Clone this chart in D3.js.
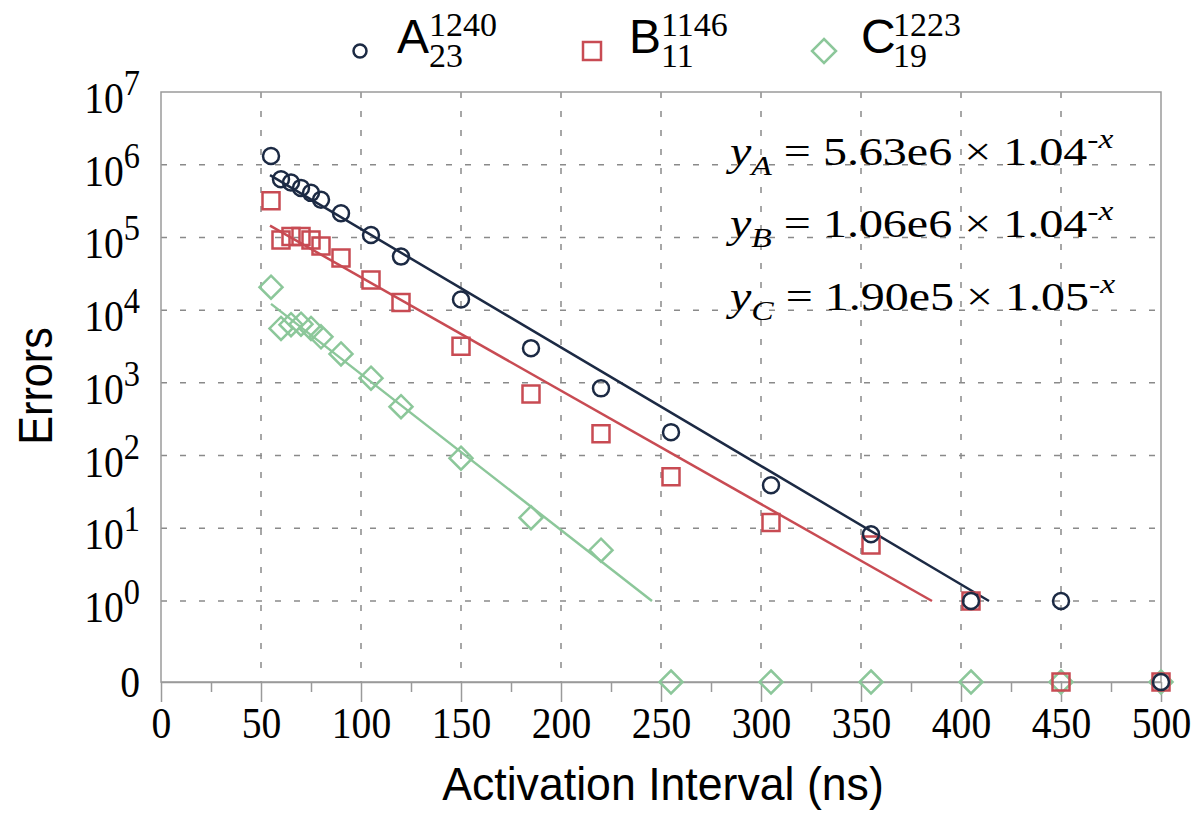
<!DOCTYPE html>
<html lang="en">
<head>
<meta charset="utf-8">
<title>Errors vs activation interval</title>
<script src="https://d3js.org/d3.v7.min.js"></script>
<style>
  body { margin: 0; background: #fff; }
  svg { display: block; }
</style>
</head>
<body>
<svg width="1201" height="813"></svg>
<script>
// activation interval (ns) for every measurement
var intervals = [55, 60, 65, 70, 75, 80, 90, 105, 120, 150, 185, 220, 255, 305, 355, 405, 450, 500];

// errors per interval, 0 = no error observed
var errorsA = [1.32e6, 6.3e5, 5.7e5, 4.8e5, 4.1e5, 3.3e5, 2.15e5, 1.08e5, 5.45e4, 1.4e4, 3.0e3, 840, 210, 39, 8.3, 1, 1, 0];
var errorsB = [3.2e5, 9.2e4, 1.03e5, 1.03e5, 9.2e4, 7.6e4, 5.2e4, 2.6e4, 1.27e4, 3.2e3, 700, 200, 51, 12, 5.9, 1, 0, 0];
var errorsC = [2.07e4, 5.6e3, 6.3e3, 6.4e3, 5.6e3, 4.3e3, 2.5e3, 1160, 470, 92, 14, 5.0, 0, 0, 0, 0, 0, 0];

// exponential fits (start / end point, straight on log axis)
var fitA = [[54.5, 7.2e5], [414, 1]];
var fitB = [[54.5, 1.45e5], [385.5, 1]];
var fitC = [[55, 1.22e4], [245.5, 1]];

var names = ["A", "B", "C"];
var supLabels = ["1240", "1146", "1223"];
var subLabels = ["23", "11", "19"];
var eqCoef = ["5.63e6", "1.06e6", "1.90e5"];
var eqBase = ["1.04", "1.04", "1.05"];

var xTicks = d3.range(0, 501, 50);
var xMinor = d3.range(25, 500, 50);
var yExps = [0, 1, 2, 3, 4, 5, 6, 7];

var colors = ["#1c2a44", "#c84b53", "#8cc79a"];
var serif = "'Liberation Serif', 'Times New Roman', serif";
var sans = "'Liberation Sans', Arial, sans-serif";

var svg = d3.select("svg");

var x = d3.scaleLinear().domain([0, 500]).range([161, 1161]);
var yLog = d3.scaleLog().domain([1, 1e7]).range([601, 92]);
var zeroGap = 81;
function y(v) { return v > 0 ? yLog(v) : yLog(1) + zeroGap; }
var yTop = yLog(1e7), yZero = y(0);

// dashed grid
var grid = svg.append("g")
  .attr("stroke", "#8a8a8a").attr("stroke-width", 1.5).attr("stroke-dasharray", "6,13");
grid.selectAll("line.gv").data(xTicks.slice(1, -1)).join("line").attr("class", "gv")
  .attr("x1", d => x(d)).attr("x2", d => x(d))
  .attr("y1", yTop).attr("y2", yZero);
grid.selectAll("line.gh").data(yExps.slice(0, -1)).join("line").attr("class", "gh")
  .attr("x1", x(0)).attr("x2", x(500))
  .attr("y1", d => yLog(Math.pow(10, d))).attr("y2", d => yLog(Math.pow(10, d)));

// frame
svg.append("rect")
  .attr("x", x(0)).attr("y", yTop)
  .attr("width", x(500) - x(0)).attr("height", yZero - yTop)
  .attr("fill", "none").attr("stroke", "#9a9a9a").attr("stroke-width", 1.5);

// x axis
var xAxis = svg.append("g").attr("transform", "translate(0," + yZero + ")")
  .call(d3.axisBottom(x).tickValues(xTicks).tickSize(20).tickSizeOuter(0));
svg.append("g").attr("transform", "translate(0," + yZero + ")")
  .call(d3.axisBottom(x).tickValues(xMinor).tickSize(10).tickSizeOuter(0).tickFormat(""))
  .call(g => g.select(".domain").remove())
  .selectAll("line").attr("stroke", "#9a9a9a").attr("stroke-width", 1.5);
xAxis.select(".domain").attr("stroke", "#9a9a9a").attr("stroke-width", 1.5);
xAxis.selectAll("line").attr("stroke", "#9a9a9a").attr("stroke-width", 1.5);
xAxis.selectAll("text")
  .attr("y", 56).attr("dy", null)
  .attr("fill", "#000")
  .attr("font-family", serif).attr("font-size", 44)
  .attr("transform", "scale(0.9,1)");

// y labels
var yl = svg.append("g").attr("font-family", serif).attr("fill", "#000");
yExps.forEach(function (e) {
  var t = yl.append("text")
    .attr("text-anchor", "end")
    .attr("font-size", 44)
    .attr("transform", "translate(140," + (yLog(Math.pow(10, e)) + 21) + ") scale(0.9,1)");
  t.append("tspan").text("10");
  t.append("tspan").attr("font-size", 36).attr("dy", -18).text(e);
});
yl.append("text")
  .attr("text-anchor", "end").attr("font-size", 44)
  .attr("transform", "translate(140," + (yZero + 15) + ") scale(0.9,1)")
  .text("0");

// axis titles
svg.append("text")
  .attr("font-family", sans).attr("font-size", 47).attr("text-anchor", "middle")
  .attr("transform", "translate(663,800) scale(0.95,1)")
  .text("Activation Interval (ns)");
svg.append("text")
  .attr("font-family", sans).attr("font-size", 48).attr("text-anchor", "middle")
  .attr("transform", "translate(52,386) rotate(-90) scale(0.9,1)")
  .text("Errors");

// fit lines
var line = d3.line().x(d => x(d[0])).y(d => y(d[1]));
[fitC, fitB, fitA].forEach(function (f, i) {
  svg.append("path").datum(f)
    .attr("d", line)
    .attr("fill", "none")
    .attr("stroke", colors[2 - i]).attr("stroke-width", 2.5);
});

// markers
function markerPath(kind, s) {
  if (kind === 0) return d3.symbol(d3.symbolCircle, Math.PI * s * s)();
  if (kind === 1) return "M" + (-s) + "," + (-s) + "H" + s + "V" + s + "H" + (-s) + "Z";
  return "M0," + (-s) + "L" + s + ",0L0," + s + "L" + (-s) + ",0Z";
}
var sizes = [8, 8.5, 11.5];
var series = [errorsA, errorsB, errorsC];
[2, 1, 0].forEach(function (k) {
  svg.append("g").selectAll("path")
    .data(intervals.map((t, i) => [t, series[k][i]]))
    .join("path")
    .attr("transform", d => "translate(" + x(d[0]) + "," + y(d[1]) + ")")
    .attr("d", markerPath(k, sizes[k]))
    .attr("fill", "none")
    .attr("stroke", colors[k]).attr("stroke-width", 2.5);
});

// equations
eqCoef.forEach(function (c, i) {
  var base = yLog(Math.pow(10, 6 - i));
  var t = svg.append("text")
    .attr("font-family", serif).attr("font-size", 40).attr("fill", "#000")
    .attr("transform", "translate(730," + base + ") scale(1.2,1)");
  t.append("tspan").attr("font-style", "italic").text("y");
  t.append("tspan").attr("font-style", "italic").attr("font-size", 28).attr("dy", 10).text(names[i]);
  t.append("tspan").attr("dy", -10).text(" = " + c + " \u00d7 " + eqBase[i]);
  t.append("tspan").attr("font-size", 28).attr("dy", -17).text("-");
  t.append("tspan").attr("font-size", 28).attr("font-style", "italic").text("x");
});

// legend: marker, then letter with stacked super/subscript in one text
var legendSizes = [6.5, 9, 12];
names.forEach(function (n, i) {
  var lx = 360 + i * 232;
  svg.append("path")
    .attr("transform", "translate(" + lx + ",51)")
    .attr("d", markerPath(i, legendSizes[i]))
    .attr("fill", "none").attr("stroke", colors[i]).attr("stroke-width", 2.5);
  var t = svg.append("text").attr("fill", "#000");
  t.append("tspan")
    .attr("x", lx + 37).attr("y", 53)
    .attr("font-family", sans).attr("font-size", 48)
    .text(n);
  t.append("tspan")
    .attr("x", lx + 69).attr("y", 36)
    .attr("font-family", serif).attr("font-size", 34)
    .text(supLabels[i]);
  t.append("tspan")
    .attr("x", lx + 69).attr("y", 67)
    .attr("font-family", serif).attr("font-size", 34)
    .text(subLabels[i]);
});
</script>
</body>
</html>
